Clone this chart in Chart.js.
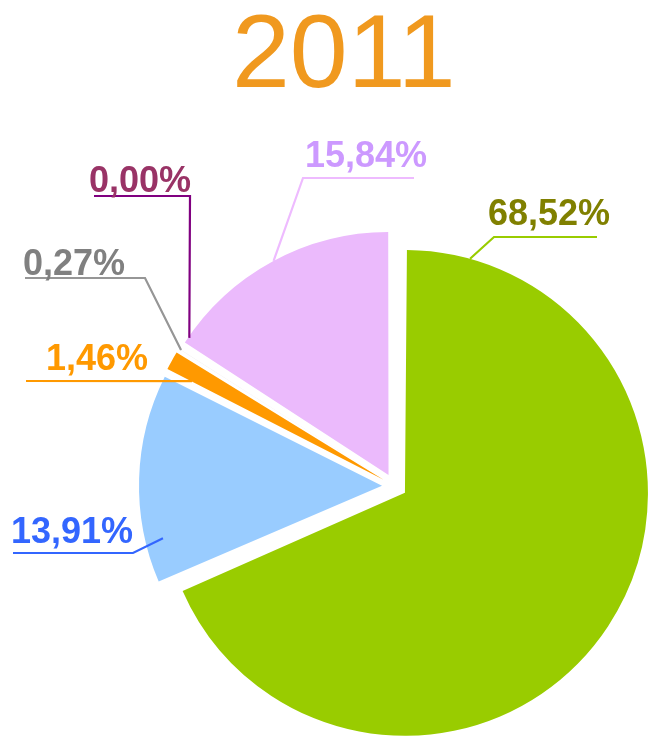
<!DOCTYPE html>
<html>
<head>
<meta charset="utf-8">
<title>2011</title>
<script src="https://cdn.jsdelivr.net/npm/chart.js@4.4.0/dist/chart.umd.min.js"></script>
<style>
    html, body { margin: 0; padding: 0; background: #fff; overflow: hidden; }
    #wrap { width: 649px; height: 736px; overflow: hidden; position: relative; }
</style>
</head>
<body>
<div id="wrap"><canvas id="pieChart" width="680" height="760"></canvas></div>
<script>
// data
var chartTitle = "2011";
var categories = ["Catégorie 1", "Catégorie 2", "Catégorie 3", "Catégorie 4", "Catégorie 5", "Catégorie 6"];
var values = [68.52, 13.91, 1.46, 0.27, 0.00, 15.84];
var valueLabels = values.map(v => v.toFixed(2).replace('.', ',') + '%');

// styles
var sliceColors = ['#99CC00', '#99CCFF', '#FF9900', '#969696', '#800080', '#EBBAFC'];
var textColors = ['#808000', '#3366FF', '#FF9900', '#808080', '#993366', '#CC99FF'];
var lineColors = ['#99CC00', '#3366FF', '#FF9900', '#969696', '#800080', '#EEBBFF'];

// where each label sits and how its leader runs to the slice
var labelLayout = [
    {tx: 488, ty: 225, path: [[597, 237], [494, 237]], f: 0.063, rf: 1.0},
    {tx: 11, ty: 543, path: [[13, 553], [133, 553]], f: 0.196, rf: 0.927},
    {tx: 46, ty: 370, path: [[26, 381]], f: 0.1, rf: 0.887},
    {tx: 23, ty: 275, path: [[25, 278], [145, 278]], f: 0.5, rf: 0.99},
    {tx: 89, ty: 192, path: [[94, 196], [190, 196]], f: 0, rf: 0.99, da: 3},
    {tx: 305, ty: 167, path: [[414, 178], [303, 178]], f: 0.505, rf: 1.0}
];

// chart.js grows an exploded arc's radius, put it back to the common one
const evenRadius = {
    id: 'evenRadius',
    beforeDatasetsDraw(chart) {
        const meta = chart.getDatasetMeta(0);
        const R = meta.controller.outerRadius;
        meta.data.forEach(el => {
            const off = (el.options.offset || 0) / 4;
            const fix = 1 - Math.sin(Math.min(Math.PI, el.circumference));
            el.outerRadius = R - off * fix;
        });
    }
};

function anchorOf(chart, el, lay) {
    const R = chart.getDatasetMeta(0).controller.outerRadius;
    const off = (el.options.offset || 0) / 4;
    const half = (el.startAngle + el.endAngle) / 2;
    const a = el.startAngle + lay.f * (el.endAngle - el.startAngle) + (lay.da || 0) * Math.PI / 180;
    const r = R * lay.rf;
    return [el.x + Math.cos(half) * off + Math.cos(a) * r, el.y + Math.sin(half) * off + Math.sin(a) * r];
}

const pieLabels = {
    id: 'pieLabels',
    afterDraw(chart) {
        const ctx = chart.ctx;
        const meta = chart.getDatasetMeta(0);
        ctx.save();
        // title
        ctx.font = '104px "Liberation Sans", Arial, sans-serif';
        ctx.fillStyle = '#F0991F';
        ctx.textAlign = 'left';
        ctx.textBaseline = 'alphabetic';
        ctx.fillText(chartTitle, 232, 87);

        ctx.font = 'bold 36px "Liberation Sans", Arial, sans-serif';
        meta.data.forEach((el, i) => {
            const lay = labelLayout[i];
            const pts = lay.path.concat([anchorOf(chart, el, lay)]);
            ctx.strokeStyle = lineColors[i];
            ctx.lineWidth = 2.2;
            ctx.beginPath();
            ctx.moveTo(pts[0][0], pts[0][1]);
            for (let k = 1; k < pts.length; k++) ctx.lineTo(pts[k][0], pts[k][1]);
            ctx.stroke();
            ctx.fillStyle = textColors[i];
            ctx.fillText(valueLabels[i], lay.tx, lay.ty);
        });
        ctx.restore();
    }
};

const ctx = document.getElementById('pieChart');
new Chart(ctx, {
    type: 'pie',
    data: {
        labels: categories,
        datasets: [{
            data: values,
            backgroundColor: sliceColors,
            borderWidth: 0,
            offset: 50
        }]
    },
    options: {
        responsive: false,
        animation: false,
        events: [],
        layout: {padding: {left: 126.5, right: 17.5, top: 218, bottom: 6}},
        plugins: {
            legend: {display: false},
            tooltip: {enabled: false},
            title: {display: false}
        }
    },
    plugins: [evenRadius, pieLabels]
});
</script>
</body>
</html>
